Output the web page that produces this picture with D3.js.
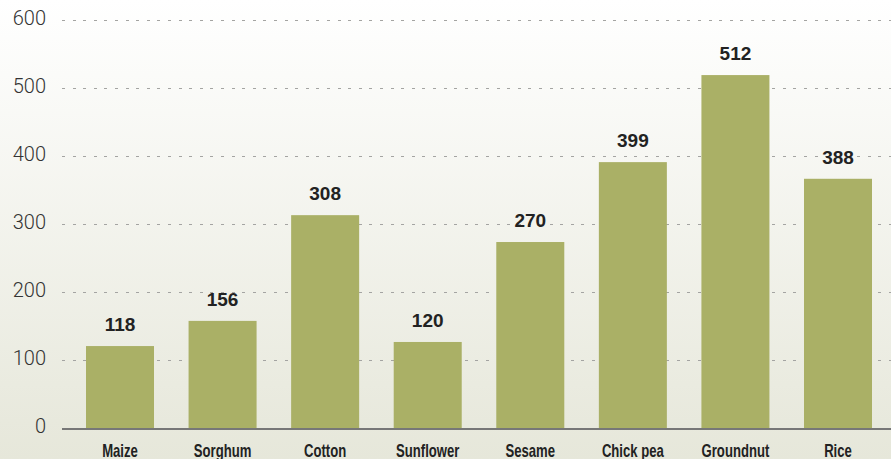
<!DOCTYPE html>
<html><head><meta charset="utf-8">
<script src="https://cdn.jsdelivr.net/npm/d3@7"></script>
<style>html,body{margin:0;padding:0;background:#fff;}svg{display:block;}</style>
</head><body>
<svg id="chart" width="891" height="459"></svg>
<script>
const categories = ["Maize","Sorghum","Cotton","Sunflower","Sesame","Chick pea","Groundnut","Rice"];
const labels = [118, 156, 308, 120, 270, 399, 512, 388];
// bar heights as drawn in the picture
const barValues = [120.5, 157.5, 313, 126.5, 273.5, 391, 519, 366.5];
const yTicks = [0, 100, 200, 300, 400, 500, 600];

const W = 891, H = 459;
const svg = d3.select("#chart");
const defs = svg.append("defs");
const grad = defs.append("linearGradient").attr("id","bg").attr("x1",0).attr("x2",0).attr("y1",0).attr("y2",1);
grad.append("stop").attr("offset","0%").attr("stop-color","#ffffff");
grad.append("stop").attr("offset","100%").attr("stop-color","#e6e7da");
svg.append("rect").attr("width",W).attr("height",H).attr("fill","url(#bg)");

const y = d3.scaleLinear().domain([0,600]).range([428,20]);
const x = d3.scaleBand().domain(categories).range([62,896]).paddingInner(0.337).paddingOuter(0.234);

// grid lines
const yAxis = d3.axisLeft(y).tickValues(yTicks).tickSize(0).tickPadding(0);
const gAxis = svg.append("g").attr("transform","translate(62,0)").call(yAxis);
gAxis.select(".domain").remove();
gAxis.selectAll(".tick line").attr("x2", W-62).attr("stroke","#a4a4a2").attr("stroke-width",1.4)
  .attr("stroke-dasharray","3,7.6").attr("shape-rendering","crispEdges")
  .filter(d=>d===0).remove();
gAxis.selectAll(".tick text").attr("x",-16).attr("dy","0.22em")
  .attr("font-family","Roboto, 'Liberation Sans', sans-serif").attr("font-weight",300)
  .attr("font-size",20).attr("fill","#333");

// bars
svg.append("g").selectAll("rect").data(categories).join("rect")
  .attr("x", d=>x(d)).attr("width", x.bandwidth())
  .attr("y", (d,i)=>y(barValues[i])).attr("height",(d,i)=>y(0)-y(barValues[i]))
  .attr("fill","#aab066");

// value labels
svg.append("g").selectAll("text").data(categories).join("text")
  .attr("x", d=>x(d)+x.bandwidth()/2)
  .attr("y", (d,i)=>y(barValues[i]) - 15)
  .attr("text-anchor","middle")
  .attr("font-family","'Liberation Sans', Arial, sans-serif").attr("font-weight","bold")
  .attr("font-size",19).attr("fill","#222")
  .text((d,i)=>labels[i]);

// x axis line
const xAxis = d3.axisBottom(x).tickSize(0).tickPadding(0);
const gx = svg.append("g").attr("transform","translate(0,429)").call(xAxis);
gx.select(".domain").attr("d","M62,0H891").attr("stroke","#777").attr("stroke-width",2.2);
gx.selectAll(".tick text").attr("y",0).attr("dy",0)
  .attr("transform","translate(0,27.5) scale(0.75,1)")
  .attr("font-family","'Liberation Sans', Arial, sans-serif")
  .attr("font-weight","bold")
  .attr("font-size",17.5).attr("fill","#222");
</script>
</body></html>
